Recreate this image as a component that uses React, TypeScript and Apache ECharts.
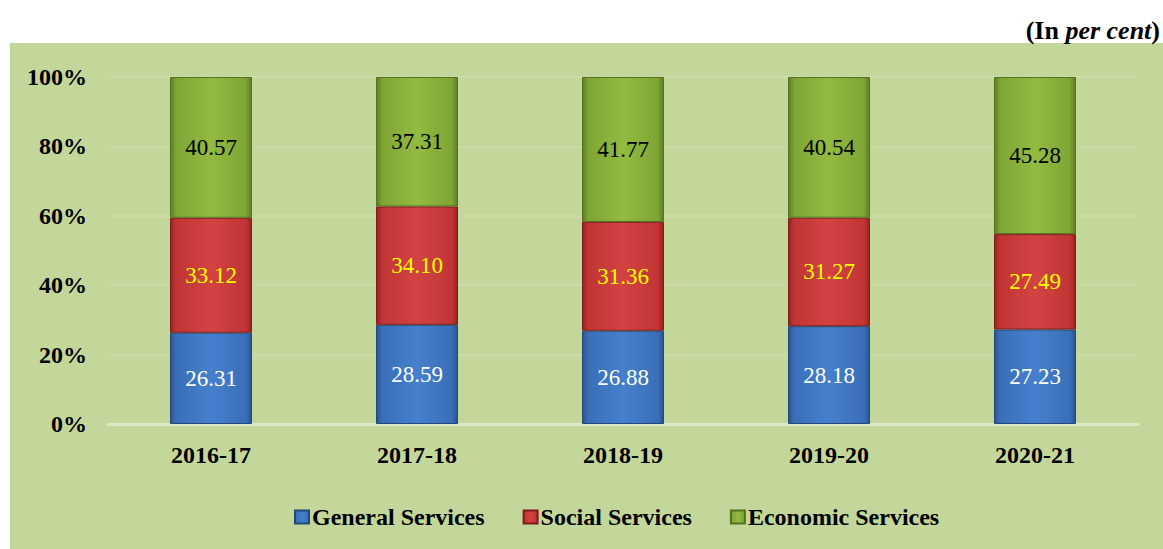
import React, { useEffect, useRef } from "react";
import * as echarts from "echarts";

const categories = ["2016-17", "2017-18", "2018-19", "2019-20", "2020-21"];
const generalServices = [26.31, 28.59, 26.88, 28.18, 27.23];
const socialServices = [33.12, 34.1, 31.36, 31.27, 27.49];
const economicServices = [40.57, 37.31, 41.77, 40.54, 45.28];
const yTicks = [0, 20, 40, 60, 80, 100];

const FONT = "'Liberation Serif', 'Times New Roman', serif";

function grad(edge: string, mid: string, light: string) {
  return new echarts.graphic.LinearGradient(0, 0, 1, 0, [
    { offset: 0, color: edge },
    { offset: 0.07, color: mid },
    { offset: 0.5, color: light },
    { offset: 0.93, color: mid },
    { offset: 1, color: edge },
  ]);
}

export default function App() {
  const ref = useRef<HTMLDivElement>(null);
  useEffect(() => {
    document.body.style.margin = "0";
    const chart = echarts.init(ref.current!, null, { renderer: "svg" });
    const mk = (
      name: string,
      data: number[],
      fill: any,
      border: string,
      labelColor: string
    ) => ({
      name,
      type: "bar",
      stack: "total",
      barWidth: 82,
      data,
      itemStyle: { color: fill, borderColor: border, borderWidth: 1 },
      label: {
        show: true,
        position: "inside",
        color: labelColor,
        fontFamily: FONT,
        fontSize: 23,
        formatter: (p: any) => Number(p.value).toFixed(2),
      },
    });
    chart.setOption({
      animation: false,
      backgroundColor: "#ffffff",
      graphic: [
        {
          type: "rect",
          z: -10,
          shape: { x: 10, y: 43, width: 1153, height: 506 },
          style: { fill: "#c4d79b" },
        },
        {
          type: "text",
          right: 3,
          top: 17,
          style: {
            text: "{b|(In }{i|per cent}{b|)}",
            rich: {
              b: { fontFamily: FONT, fontWeight: "bold", fontSize: 26, fill: "#000" },
              i: { fontFamily: FONT, fontWeight: "bold", fontStyle: "italic", fontSize: 26, fill: "#000" },
            },
          },
        },
      ],
      grid: { left: 108, right: 25, top: 77, bottom: 125, containLabel: false },
      legend: {
        left: 289,
        top: 500,
        itemWidth: 14,
        itemHeight: 13,
        itemGap: 38,
        icon: "rect",
        textStyle: {
          fontFamily: FONT,
          fontWeight: "bold",
          fontSize: 24,
          color: "#000",
          padding: [0, 0, 0, -2],
        },
        data: ["General Services", "Social Services", "Economic Services"],
      },
      xAxis: {
        type: "category",
        data: categories,
        axisLine: { lineStyle: { color: "#dde8c6", width: 3 } },
        axisTick: { show: false },
        axisLabel: {
          fontFamily: FONT,
          fontWeight: "bold",
          fontSize: 24,
          color: "#000",
          margin: 19,
        },
      },
      yAxis: {
        type: "value",
        min: yTicks[0],
        max: yTicks[yTicks.length - 1],
        interval: 20,
        axisLine: { show: false },
        axisTick: { show: false },
        splitLine: { lineStyle: { color: "rgba(255,255,255,0.1)", width: 2 } },
        axisLabel: {
          fontFamily: FONT,
          fontWeight: "bold",
          fontSize: 24,
          color: "#000",
          margin: 21,
          formatter: "{value}%",
        },
      },
      series: [
        mk("General Services", generalServices, grad("#2a5590", "#3a6fb8", "#4580cc"), "#23497c", "#ffffff"),
        mk("Social Services", socialServices, grad("#982222", "#c13535", "#d44242"), "#7d1c1c", "#ffff00"),
        mk("Economic Services", economicServices, grad("#5f7d25", "#7fa535", "#92bb40"), "#55701f", "#000000"),
      ],
    });
    return () => chart.dispose();
  }, []);
  return <div ref={ref} style={{ width: 1163, height: 549 }} />;
}
